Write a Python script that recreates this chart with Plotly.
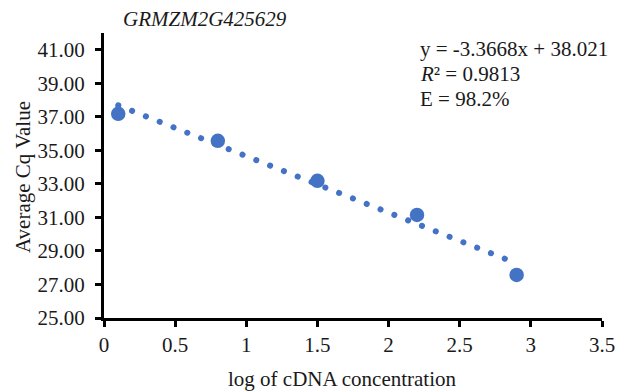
import plotly.graph_objects as go

# Data
log_conc = [0.1, 0.8, 1.5, 2.2, 2.9]
avg_cq = [37.18, 35.57, 33.18, 31.15, 27.57]

slope = -3.3668
intercept = 38.021
r2 = 0.9813
efficiency = "98.2%"
gene = "GRMZM2G425629"

x_ticks = [0, 0.5, 1, 1.5, 2, 2.5, 3, 3.5]
y_ticks = [25, 27, 29, 31, 33, 35, 37, 39, 41]

trend_x = [log_conc[0], log_conc[-1]]
trend_y = [slope * v + intercept for v in trend_x]

BLUE = "#4472C4"
FONT = "Liberation Serif"
TXT = "#1a1a1a"

fig = go.Figure()
fig.add_trace(go.Scatter(
    x=trend_x, y=trend_y, mode="lines",
    line=dict(color=BLUE, width=6, dash="0.1px,14.75px"),
    hoverinfo="skip", showlegend=False))
fig.add_trace(go.Scatter(
    x=log_conc, y=avg_cq, mode="markers",
    marker=dict(color=BLUE, size=14.5, line=dict(width=0)),
    showlegend=False))

tick_font = dict(family=FONT, size=21, color=TXT)
axis_common = dict(
    showline=True, linecolor="black", linewidth=3,
    ticks="outside", ticklen=6, tickwidth=3, tickcolor="black",
    showgrid=False, zeroline=False,
)

fig.update_layout(
    xaxis=dict(range=[0, 3.5], tickvals=x_ticks,
               ticktext=[("%g" % v) for v in x_ticks],
               tickfont=tick_font, **axis_common),
    yaxis=dict(range=[25, 42], tickvals=y_ticks,
               ticktext=["%.2f" % v for v in y_ticks], ticklabelstandoff=6,
               tickfont=tick_font, **axis_common),
)

ann_font = dict(family=FONT, size=21, color=TXT)
annotations = [
    dict(text=f"<i>{gene}</i>", x=205, y=19),
    dict(text=f"y = {slope}x + {intercept}", x=418, y=49, xanchor="left"),
    dict(text=f"<i>R</i>² = {r2}", x=418, y=74, xanchor="left"),
    dict(text=f"E = {efficiency}", x=418, y=99, xanchor="left"),
    dict(text="log of cDNA concentration", x=342, y=379),
    dict(text="Average Cq Value", x=23, y=177, textangle=-90),
]
W, H = 630, 391
L, R, T, B = 104, 28, 33, 73
for a in annotations:
    xa = a.pop("x"); ya = a.pop("y")
    fig.add_annotation(
        x=(xa - L) / (W - L - R), y=(H - B - ya) / (H - T - B),
        xref="paper", yref="paper", showarrow=False,
        xanchor=a.pop("xanchor", "center"), yanchor="middle",
        font=ann_font, **a)

fig.update_layout(
    width=W, height=H,
    margin=dict(l=L, r=R, t=T, b=B),
    font=dict(family=FONT, size=21, color=TXT),
    paper_bgcolor="white", plot_bgcolor="white",
)

post = (
    "document.body.style.margin='0';document.body.style.overflow='hidden';"
    "document.querySelectorAll('.scatterlayer .trace path.js-line')"
    ".forEach(function(p){p.style.strokeLinecap='round';});"
)
fig.write_html("out.html", config={"displayModeBar": False}, post_script=post)
